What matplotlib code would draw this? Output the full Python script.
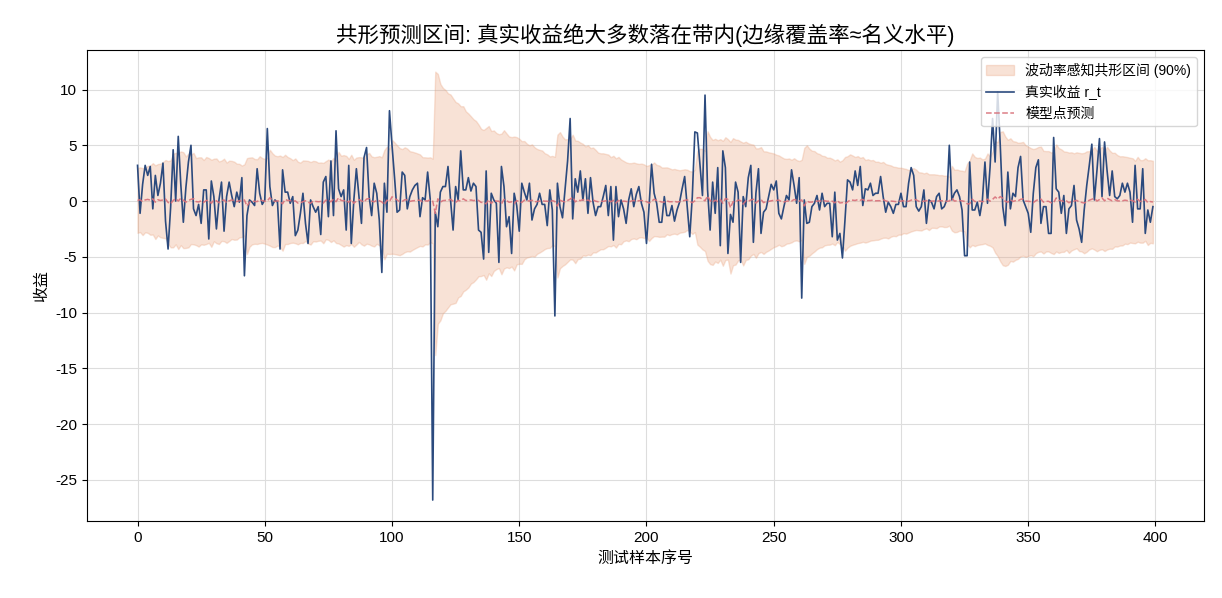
import matplotlib
matplotlib.use("Agg")
import matplotlib.pyplot as plt
import numpy as np

plt.rcParams['font.family'] = ['Liberation Sans', 'Noto Sans CJK SC', 'DejaVu Sans']
plt.rcParams['axes.unicode_minus'] = False

# 真实收益 r_t (index 0..399)
returns = [
    3.2, -1.1, 1.5, 3.2, 2.3, 3.1, -0.7, 2.3, 0.5, 1.6,
    3.4, -1.8, -4.3, -0.6, 4.6, 0.0, 5.8, 1.5, -1.9, 1.2,
    3.5, 5.0, -0.7, -1.3, -0.3, -2.0, 1.0, 1.0, -3.4, 1.8,
    0.4, -2.5, 0.1, 1.7, -2.7, 0.4, 1.7, 0.5, -0.5, 0.8,
    -0.1, 2.1, -6.7, -1.3, 0.1, -0.1, -0.4, 2.9, 0.7, -0.3,
    0.1, 6.5, 1.3, -0.4, 0.1, -0.1, -4.3, 2.8, 0.8, 0.8,
    -0.2, 0.4, -3.1, -2.6, -1.1, 0.7, -2.0, -3.8, 0.1, -0.5,
    -1.0, -0.5, -3.0, 1.7, 2.2, -1.4, 3.6, -1.3, 6.3, 1.1,
    0.4, 1.0, -2.6, 3.2, -3.8, 0.1, 2.9, 0.4, -2.0, 3.9,
    4.8, 0.4, -1.3, 1.6, 0.7, -1.7, -6.4, 1.6, -1.0, 8.1,
    5.0, 2.1, -1.0, -0.8, 2.6, 2.3, -0.7, 0.4, 1.0, 1.4,
    1.6, -1.4, 0.3, 0.1, 2.6, 0.2, -26.8, -1.0, -2.3, 0.8,
    1.3, 1.3, 3.1, 0.1, -2.6, 1.3, 0.1, 4.5, 1.0, 1.0,
    2.1, 0.9, 1.6, 1.3, -2.6, -2.8, -5.2, 2.7, -4.6, 0.7,
    0.1, -0.2, -5.5, 3.1, 1.3, -2.3, -1.4, -4.7, 0.7, -0.4,
    -2.7, 1.6, 0.8, 0.1, 1.6, -1.7, -0.7, -0.3, 0.7, -0.3,
    -0.3, -2.2, 1.0, -0.8, -10.3, 1.6, -0.5, -1.5, 1.0, 3.6,
    7.4, -1.6, 2.0, 0.8, 2.7, 0.1, 2.0, -1.1, 2.1, -0.1,
    -1.3, -0.5, -0.5, 0.4, 1.4, -1.3, 1.3, -3.5, 1.3, -1.4,
    0.1, -0.7, -2.0, 0.1, 1.1, -0.5, 0.6, 1.3, -0.2, -1.0,
    -3.8, -0.5, 3.3, 0.7, -0.2, -1.9, -1.9, 0.4, -1.3, -1.3,
    -0.4, -1.8, -0.8, -0.1, 1.1, 2.2, -0.5, -3.2, 0.4, 6.2,
    6.1, 3.3, 0.5, 9.5, 1.0, -2.6, 1.7, -1.1, 3.0, -4.0,
    4.5, 3.0, -4.7, -1.2, -1.9, 1.7, 0.8, -5.5, 0.4, -0.5,
    2.1, 3.2, -3.7, 0.7, 2.9, -2.9, -1.0, -0.7, 0.4, 1.5,
    1.0, 1.8, -1.1, -1.6, -0.5, 0.5, 0.1, 2.8, 1.4, -0.2,
    2.1, -8.7, 0.1, -2.0, -1.9, -0.5, -0.2, 0.5, -0.8, 0.7,
    -0.5, -0.2, -0.2, -3.2, 0.8, -3.5, -2.9, -5.1, -1.7, 1.9,
    1.7, 1.0, 2.7, 1.4, 3.1, -0.4, 1.1, 1.0, 1.6, 0.5,
    0.7, 0.7, 2.2, 0.4, -1.0, -0.1, -0.5, -1.1, -0.3, -0.3,
    0.7, -0.5, -0.5, 1.6, 3.0, 2.3, -0.5, -0.9, -0.5, 1.0,
    -2.0, 0.1, -0.1, -0.7, 0.4, 0.7, -0.7, -0.5, 0.1, 5.0,
    0.1, 0.7, 1.0, 0.4, -0.8, -4.9, -4.9, 3.5, -0.8, -0.8,
    -0.1, -1.3, 0.1, 3.5, -0.2, 3.0, 7.4, 3.5, 9.8, 5.1,
    -0.5, -2.2, 2.6, -0.7, 0.7, 0.4, 3.0, 4.0, 0.1, -0.5,
    -1.1, -2.8, 0.7, 3.0, 3.7, -2.0, -0.5, -0.5, -2.9, -2.9,
    5.7, 1.1, 0.8, -1.1, 0.5, -2.9, -0.7, -0.4, 1.4, -1.7,
    -2.5, -3.7, -0.8, 1.4, 3.2, 5.1, 0.1, 2.7, 5.6, 0.4,
    5.3, 2.7, 0.5, 2.7, 0.4, 0.2, 0.5, 1.6, 0.8, 1.6,
    0.8, -1.9, 3.2, -0.7, -0.7, 2.9, -2.9, -0.8, -1.9, -0.5,
]

# 模型点预测
point_pred = [
    0.05, 0.12, -0.05, 0.10, 0.15, 0.08, 0.20, -0.10, 0.12, 0.05,
    0.10, 0.18, -0.12, -0.25, 0.05, 0.22, 0.00, 0.25, 0.08, -0.10,
    0.05, 0.15, 0.22, -0.05, -0.08, 0.02, -0.12, 0.05, 0.06, -0.20,
    0.10, 0.02, -0.15, 0.03, 0.10, -0.15, 0.02, 0.10, 0.03, -0.05,
    0.04, -0.02, 0.10, -0.45, -0.10, 0.02, -0.03, -0.05, 0.12, 0.05,
    -0.02, 0.00, 0.30, 0.08, -0.03, 0.02, -0.02, -0.25, 0.15, 0.05,
    0.04, -0.03, 0.02, -0.18, -0.15, -0.06, 0.03, -0.10, -0.20, 0.00,
    -0.03, -0.06, -0.04, -0.18, 0.08, 0.12, -0.07, 0.18, -0.06, 0.30,
    0.06, 0.02, 0.05, -0.12, 0.15, -0.20, 0.00, 0.14, 0.02, -0.10,
    0.18, 0.22, 0.00, -0.07, 0.07, 0.03, -0.08, -0.32, 0.08, -0.05,
    0.38, 0.25, 0.10, -0.05, -0.04, 0.12, 0.10, -0.03, 0.02, 0.05,
    0.07, 0.08, -0.07, 0.02, 0.00, 0.12, 0.00, -1.10, 0.20, -0.10,
    0.04, 0.06, 0.06, 0.15, 0.00, -0.12, 0.06, 0.00, 0.20, 0.05,
    0.05, 0.10, 0.04, 0.08, 0.06, -0.12, -0.13, -0.25, 0.13, -0.22,
    0.03, 0.00, -0.01, -0.26, 0.15, 0.06, -0.11, -0.07, -0.22, 0.03,
    -0.02, -0.13, 0.08, 0.04, 0.00, 0.08, -0.08, -0.03, -0.01, 0.03,
    -0.01, -0.01, -0.10, 0.05, -0.04, -0.45, 0.08, -0.02, -0.07, 0.05,
    0.17, 0.35, -0.07, 0.10, 0.04, 0.13, 0.00, 0.10, -0.05, 0.10,
    -0.01, -0.06, -0.02, -0.02, 0.02, 0.07, -0.06, 0.06, -0.17, 0.06,
    -0.07, 0.00, -0.03, -0.10, 0.00, 0.05, -0.02, 0.03, 0.06, -0.01,
    -0.05, -0.18, -0.02, 0.16, 0.04, -0.01, -0.09, -0.09, 0.02, -0.06,
    -0.06, -0.02, -0.09, -0.04, 0.00, 0.05, 0.11, -0.02, -0.15, 0.02,
    0.30, 0.30, 0.16, 0.02, 0.45, 0.05, -0.12, 0.08, -0.05, 0.15,
    -0.20, 0.22, 0.15, -0.60, -0.06, -0.09, 0.08, 0.04, -0.27, 0.02,
    -0.02, 0.10, 0.16, -0.18, 0.03, 0.14, -0.14, -0.05, -0.03, 0.02,
    0.07, 0.05, 0.09, -0.05, -0.08, -0.02, 0.02, 0.00, 0.14, 0.07,
    -0.01, 0.10, -0.43, 0.00, -0.10, -0.09, -0.02, -0.01, 0.02, -0.04,
    0.03, -0.02, -0.01, -0.01, -0.16, 0.04, -0.17, -0.14, -0.25, -0.08,
    0.09, 0.08, 0.05, 0.13, 0.07, 0.15, -0.02, 0.05, 0.05, 0.08,
    0.02, 0.03, 0.03, 0.11, 0.02, -0.05, 0.00, -0.02, -0.05, -0.01,
    -0.01, 0.03, -0.02, -0.02, 0.08, 0.15, 0.11, -0.02, -0.04, -0.02,
    0.05, -0.10, 0.00, 0.00, -0.03, 0.02, 0.03, -0.03, -0.02, 0.00,
    0.25, 0.00, 0.03, 0.05, 0.02, -0.04, -0.25, -0.25, 0.17, -0.04,
    -0.04, 0.00, -0.06, 0.00, 0.17, -0.01, 0.15, 0.37, 0.17, 0.40,
    0.25, -0.02, -0.11, 0.13, -0.03, 0.03, 0.02, 0.15, 0.20, 0.00,
    -0.02, -0.05, -0.14, 0.03, 0.15, 0.18, -0.10, -0.02, -0.02, -0.15,
    -0.15, 0.28, 0.05, 0.04, -0.05, 0.02, -0.15, -0.03, -0.02, 0.07,
    -0.08, -0.12, -0.18, -0.04, 0.07, 0.16, 0.25, 0.00, 0.13, 0.28,
    0.02, 0.26, 0.13, 0.02, 0.13, 0.02, 0.01, 0.02, 0.08, 0.04,
    0.08, 0.04, -0.09, 0.16, -0.03, -0.03, 0.14, -0.14, -0.04, -0.09,
]

# half width of the conformal band
half_width = [
    2.9, 2.9, 3.0, 2.9, 3.0, 3.1, 3.2, 3.3, 3.2, 3.3,
    3.4, 3.5, 3.7, 3.9, 4.2, 4.1, 4.3, 4.2, 4.3, 4.1,
    4.2, 4.0, 4.1, 3.9, 4.0, 3.9, 3.8, 3.9, 3.8, 3.9,
    3.7, 3.8, 3.7, 3.6, 3.7, 3.6, 3.6, 3.5, 3.5, 3.4,
    3.3, 3.2, 3.2, 4.3, 4.0, 3.9, 3.8, 3.8, 3.9, 3.8,
    3.8, 3.9, 4.3, 4.2, 4.1, 4.0, 4.1, 4.2, 4.0, 3.9,
    3.8, 3.7, 3.8, 3.7, 3.6, 3.7, 3.6, 3.7, 3.7, 3.6,
    3.6, 3.5, 3.5, 3.6, 3.5, 3.6, 3.6, 3.7, 3.7, 4.1,
    4.0, 4.1, 4.0, 3.9, 4.0, 3.9, 3.9, 3.8, 3.9, 3.9,
    4.0, 4.1, 4.0, 4.0, 3.9, 4.0, 4.0, 4.9, 4.8, 4.7,
    5.1, 5.0, 4.9, 4.8, 4.7, 4.7, 4.6, 4.5, 4.4, 4.3,
    4.2, 4.1, 4.0, 3.9, 3.9, 3.8, 3.8, 12.7, 11.2, 10.6,
    10.1, 9.9, 9.6, 9.4, 9.2, 9.0, 8.7, 8.5, 8.3, 8.0,
    7.8, 7.5, 7.3, 7.1, 6.8, 6.6, 6.5, 6.8, 6.6, 6.5,
    6.3, 6.1, 6.0, 6.3, 6.2, 6.0, 5.9, 5.8, 6.0, 5.7,
    5.6, 5.5, 5.3, 5.1, 5.0, 5.0, 4.9, 4.7, 4.6, 4.5,
    4.3, 4.2, 4.1, 4.0, 4.0, 6.4, 6.1, 5.8, 5.6, 5.5,
    5.4, 5.6, 5.5, 5.3, 5.2, 5.0, 4.9, 4.9, 4.8, 4.7,
    4.6, 4.4, 4.3, 4.3, 4.2, 4.1, 4.0, 4.0, 4.0, 3.9,
    3.8, 3.6, 3.5, 3.5, 3.4, 3.4, 3.4, 3.3, 3.3, 3.3,
    3.2, 3.4, 3.3, 3.3, 3.2, 3.2, 3.1, 3.1, 3.0, 3.0,
    2.9, 2.9, 2.9, 2.8, 2.8, 2.8, 2.7, 2.7, 2.8, 2.8,
    4.2, 4.4, 4.5, 4.5, 5.8, 5.7, 5.6, 5.5, 5.5, 5.4,
    5.6, 5.5, 5.4, 5.9, 5.7, 5.6, 5.4, 5.3, 5.5, 5.3,
    5.2, 5.0, 4.9, 4.9, 4.7, 4.7, 4.6, 4.5, 4.4, 4.3,
    4.2, 4.1, 4.0, 4.0, 3.9, 3.8, 3.8, 3.7, 3.7, 3.6,
    3.6, 3.6, 5.2, 5.0, 4.8, 4.6, 4.5, 4.3, 4.2, 4.1,
    4.0, 3.9, 3.9, 3.8, 3.8, 3.7, 3.7, 3.8, 4.2, 4.1,
    4.1, 4.0, 3.9, 3.9, 3.8, 3.8, 3.7, 3.7, 3.6, 3.6,
    3.5, 3.5, 3.4, 3.4, 3.3, 3.3, 3.2, 3.1, 3.1, 3.0,
    3.0, 2.9, 2.9, 2.8, 2.8, 2.8, 2.7, 2.6, 2.6, 2.5,
    2.5, 2.5, 2.4, 2.4, 2.4, 2.3, 2.3, 2.3, 2.3, 2.2,
    2.9, 2.8, 2.8, 2.7, 2.7, 2.7, 3.6, 3.9, 4.1, 4.0,
    3.9, 3.9, 3.8, 3.8, 4.1, 4.0, 4.3, 5.0, 5.1, 5.8,
    6.0, 5.8, 5.6, 5.5, 5.4, 5.3, 5.2, 5.1, 5.1, 5.0,
    4.9, 4.8, 4.8, 4.7, 4.7, 4.7, 4.6, 4.5, 4.5, 4.5,
    4.6, 4.8, 4.7, 4.6, 4.5, 4.4, 4.5, 4.4, 4.3, 4.3,
    4.4, 4.4, 4.5, 4.5, 4.4, 4.4, 4.6, 4.5, 4.5, 4.6,
    4.5, 4.6, 4.4, 4.3, 4.2, 4.1, 4.0, 4.0, 3.9, 3.9,
    3.8, 3.8, 3.7, 3.8, 3.7, 3.7, 3.7, 3.8, 3.7, 3.7,
]

r = np.array(returns)
pred = np.array(point_pred)
hw = np.array(half_width)
t = np.arange(len(r))

fig, ax = plt.subplots(figsize=(12.22, 5.98), dpi=100)

# band, true returns, point forecast
ax.fill_between(t, pred - hw, pred + hw, color='#e9a07a', alpha=0.3,
                label='波动率感知共形区间 (90%)')
ax.plot(t, r, color='#2b4a7e', lw=1.2, label='真实收益 r_t')
ax.plot(t, pred, color='#d9707a', lw=1.1, ls='--', alpha=0.9, label='模型点预测')

ax.set_title('共形预测区间: 真实收益绝大多数落在带内(边缘覆盖率≈名义水平)', fontsize=15.5)
ax.set_xlabel('测试样本序号', fontsize=11.5)
ax.set_ylabel('收益', fontsize=11.5)
ax.tick_params(labelsize=11)
ax.grid(True, color='#dddddd', lw=0.8)
ax.set_axisbelow(True)
ax.legend(loc='upper right', fontsize=10)

plt.subplots_adjust(left=0.071, right=0.985, top=0.916, bottom=0.128)
plt.savefig('out.png', dpi=100)
